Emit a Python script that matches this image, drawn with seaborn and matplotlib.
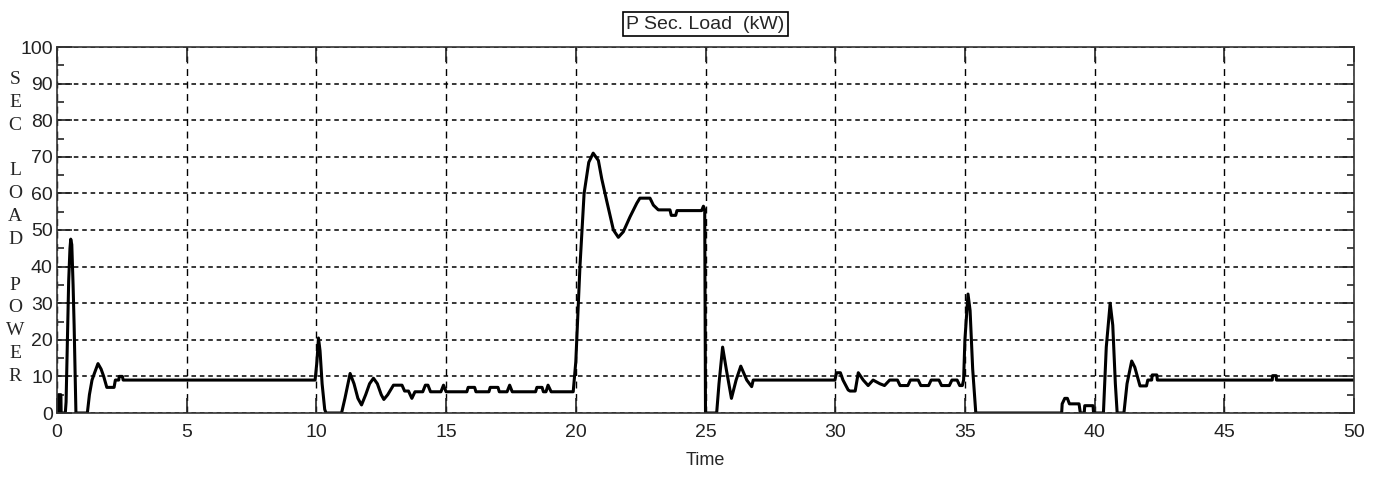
import matplotlib
matplotlib.use("Agg")
import matplotlib.pyplot as plt
import pandas as pd
import seaborn as sns
from matplotlib.ticker import MultipleLocator

# secondary load power trace
time_s = [
    0.0, 0.04, 0.05, 0.15, 0.16, 0.32, 0.35, 0.40, 0.45, 0.50, 0.53, 0.57, 0.62, 0.66, 0.70, 0.73,
    1.17, 1.25, 1.35, 1.45, 1.58, 1.70, 1.80, 1.92, 2.20, 2.25, 2.38, 2.40, 2.52, 2.55,
    9.95, 10.02, 10.08, 10.14, 10.22, 10.32, 10.37, 10.97, 11.10, 11.30, 11.45, 11.60, 11.74,
    11.90, 12.05, 12.20, 12.35, 12.50, 12.60, 12.75, 12.97, 13.30, 13.40, 13.55, 13.68, 13.80,
    14.10, 14.20, 14.30, 14.40, 14.80, 14.90, 15.00, 15.80, 15.85, 16.10, 16.15, 16.65, 16.70,
    17.00, 17.05, 17.35, 17.45, 17.55, 18.45, 18.50, 18.70, 18.75, 18.85, 18.93, 19.05, 19.90,
    20.00, 20.16, 20.32, 20.50, 20.67, 20.87, 21.00, 21.19, 21.45, 21.64, 21.83, 22.09, 22.35,
    22.47, 22.86, 22.99, 23.18, 23.63, 23.68, 23.85, 23.90, 24.85, 24.92, 24.97, 25.00,
    25.43, 25.52, 25.66, 25.80, 26.00, 26.18, 26.36, 26.59, 26.78, 26.84, 29.99, 30.05, 30.20,
    30.30, 30.50, 30.57, 30.77, 30.89, 31.08, 31.27, 31.46, 31.72, 31.90, 32.10, 32.40, 32.50,
    32.80, 32.90, 33.20, 33.30, 33.60, 33.70, 34.00, 34.10, 34.40, 34.50, 34.70, 34.80, 34.90,
    34.95, 35.00, 35.12, 35.20, 35.30, 35.42, 38.73, 38.75, 38.85, 38.95, 39.03, 39.40, 39.45,
    39.60, 39.62, 39.94, 39.96, 40.34, 40.45, 40.60, 40.70, 40.80, 40.87, 41.13, 41.25, 41.43,
    41.55, 41.75, 42.00, 42.05, 42.20, 42.22, 42.40, 42.42, 46.85, 46.86, 47.00, 47.01, 50.0,
]
power_kw = [
    0, 0, 5, 5, 0, 0, 3, 20, 36, 45, 47.5, 46, 35, 24, 11, 0,
    0, 5, 9, 11, 13.5, 12, 10, 7, 7, 9, 9, 10, 10, 9,
    9, 14, 20.5, 17, 8, 1, 0, 0, 4, 10.8, 8, 4, 2.2,
    5, 8, 9.5, 8, 5, 3.7, 5, 7.6, 7.6, 6, 6, 4, 5.8,
    5.8, 7.6, 7.6, 5.8, 5.8, 7.6, 5.8, 5.8, 7, 7, 5.8, 5.8, 7,
    7, 5.8, 5.8, 7.6, 5.8, 5.8, 7, 7, 5.8, 5.8, 7.6, 5.8, 5.8,
    14, 40, 60, 68.5, 71, 69, 64, 58, 50, 48, 49.5, 53.6, 57.3,
    58.7, 58.7, 56.8, 55.5, 55.5, 54, 54, 55.3, 55.3, 56.5, 55.5, 0,
    0, 8, 18, 12, 4, 9, 12.8, 9, 7.2, 9, 9, 11, 11,
    9, 6.3, 6, 6, 11, 9, 7.5, 9, 8, 7.5, 9, 9, 7.5,
    7.5, 9, 9, 7.5, 7.5, 9, 9, 7.5, 7.5, 9, 9, 7.5, 7.5,
    9, 20, 32.5, 28, 12, 0, 0, 2.5, 4, 4, 2.5, 2.5, 0,
    0, 2, 2, 0, 0, 18, 30, 24, 8, 0, 0, 8, 14.2,
    12.5, 7.4, 7.4, 9, 9, 10.4, 10.4, 9, 9, 10.2, 10.2, 9, 9,
]

x_ticks = list(range(0, 51, 5))
y_ticks = list(range(0, 101, 10))
ylabel_letters = "SEC LOAD POWER"

df = pd.DataFrame({"Time": time_s, "P": power_kw})

sns.set_style("white")
plt.rcParams["font.family"] = ["Liberation Sans", "DejaVu Sans"]

fig = plt.figure(figsize=(13.8, 4.79), dpi=100)
ax = fig.add_axes([57 / 1380, 66 / 479, (1354 - 57) / 1380, (413 - 47) / 479])

sns.lineplot(data=df, x="Time", y="P", ax=ax, color="black", linewidth=2.2,
             estimator=None, sort=False)

ax.set_xlim(0, 50)
ax.set_ylim(0, 100)
ax.set_xticks(x_ticks)
ax.set_yticks(y_ticks)
ax.yaxis.set_minor_locator(MultipleLocator(5))

for side in ax.spines.values():
    side.set_color("#333333")
    side.set_linewidth(1.2)

ax.tick_params(axis="x", which="major", direction="in", length=11, width=1.2,
               top=True, bottom=True, labelsize=14, pad=8, colors="#222222")
ax.tick_params(axis="y", which="major", direction="in", length=11, width=1.2,
               left=True, right=True, labelsize=14, pad=3, colors="#222222")
ax.tick_params(axis="y", which="minor", direction="in", length=5, width=1.2,
               left=True, right=True)

ax.grid(axis="y", which="major", color="black", linewidth=1.1, linestyle=(0, (3, 2.5)))
ax.grid(axis="x", which="major", color="black", linewidth=1.0, linestyle=(0, (5, 4)))
ax.set_axisbelow(True)

ax.set_xlabel("Time", fontsize=13, labelpad=8)
ax.set_ylabel("")
ax.set_title("P Sec. Load  (kW)", fontsize=14, pad=13,
             bbox=dict(facecolor="white", edgecolor="black", linewidth=1.2, pad=2.5))

fig.text(15 / 1380, 1 - 228 / 479, "\n".join(ylabel_letters), ha="center", va="center",
         family=["Liberation Serif", "DejaVu Serif"], fontsize=14, linespacing=1.45)

fig.savefig("out.png", dpi=100)
